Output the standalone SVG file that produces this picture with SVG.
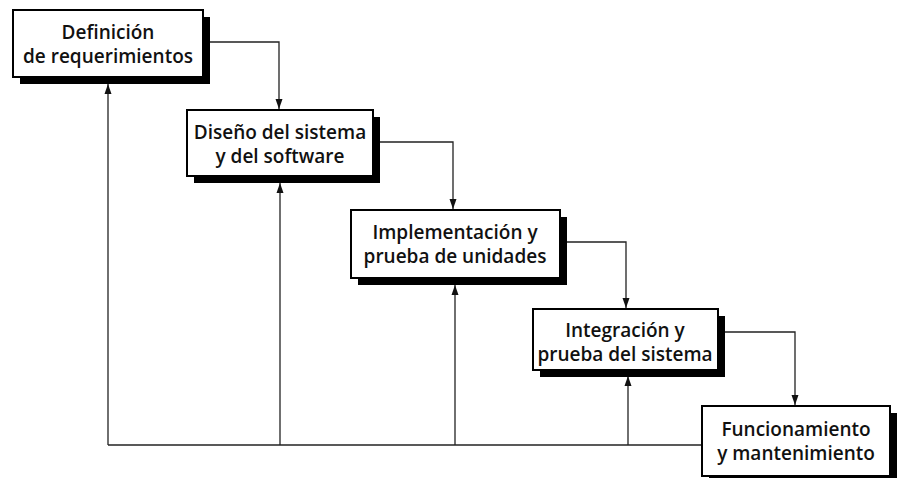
<svg xmlns="http://www.w3.org/2000/svg" width="899" height="478" viewBox="0 0 899 478">
<defs>
<marker id="ah" viewBox="0 0 10 10" refX="10" refY="5" markerWidth="10" markerHeight="10" markerUnits="userSpaceOnUse" orient="auto">
<path d="M0,1.5 L10,5 L0,8.5 z" fill="#111"/>
</marker>
<style>
.sh{fill:#000}
.bx{fill:#fff;stroke:#000;stroke-width:2}
.t{font-family:"Open Sans","Liberation Sans",sans-serif;font-size:19px;font-weight:600;fill:#111;text-anchor:middle}
.c{fill:none;stroke:#222;stroke-width:1.3}
.ca{fill:none;stroke:#222;stroke-width:1.3;marker-end:url(#ah)}
</style>
</defs>
<rect width="899" height="478" fill="#fff"/>
<g id="connectors">
<polyline class="ca" points="204,42 279,42 279,109"/>
<polyline class="ca" points="374,142 453,142 453,209"/>
<polyline class="ca" points="561,242 626,242 626,308"/>
<polyline class="ca" points="719,332 795,332 795,405"/>
<polyline class="c" points="701,445 108,445"/>
<line class="ca" x1="108" y1="445" x2="108" y2="84"/>
<line class="ca" x1="280" y1="445" x2="280" y2="183"/>
<line class="ca" x1="455" y1="445" x2="455" y2="285"/>
<line class="ca" x1="628" y1="445" x2="628" y2="376"/>
</g>
<g id="n1">
<rect class="sh" x="20" y="17" width="190" height="67"/>
<rect class="bx" x="13" y="10" width="190" height="67"/>
<text class="t" x="108" y="39">Definición</text>
<text class="t" x="108" y="63">de requerimientos</text>
</g>
<g id="n2">
<rect class="sh" x="194" y="117" width="186" height="66"/>
<rect class="bx" x="187" y="110" width="186" height="66"/>
<text class="t" x="280" y="139">Diseño del sistema</text>
<text class="t" x="280" y="163">y del software</text>
</g>
<g id="n3">
<rect class="sh" x="358" y="217" width="209" height="68"/>
<rect class="bx" x="351" y="210" width="209" height="68"/>
<text class="t" x="455" y="239">Implementación y</text>
<text class="t" x="455" y="263">prueba de unidades</text>
</g>
<g id="n4">
<rect class="sh" x="540" y="316" width="185" height="61"/>
<rect class="bx" x="533" y="309" width="185" height="61"/>
<text class="t" x="625" y="337">Integración y</text>
<text class="t" x="625" y="361">prueba del sistema</text>
</g>
<g id="n5">
<rect class="sh" x="709" y="413" width="188" height="70"/>
<rect class="bx" x="702" y="406" width="188" height="70"/>
<text class="t" x="796" y="436">Funcionamiento</text>
<text class="t" x="796" y="460">y mantenimiento</text>
</g>
</svg>
